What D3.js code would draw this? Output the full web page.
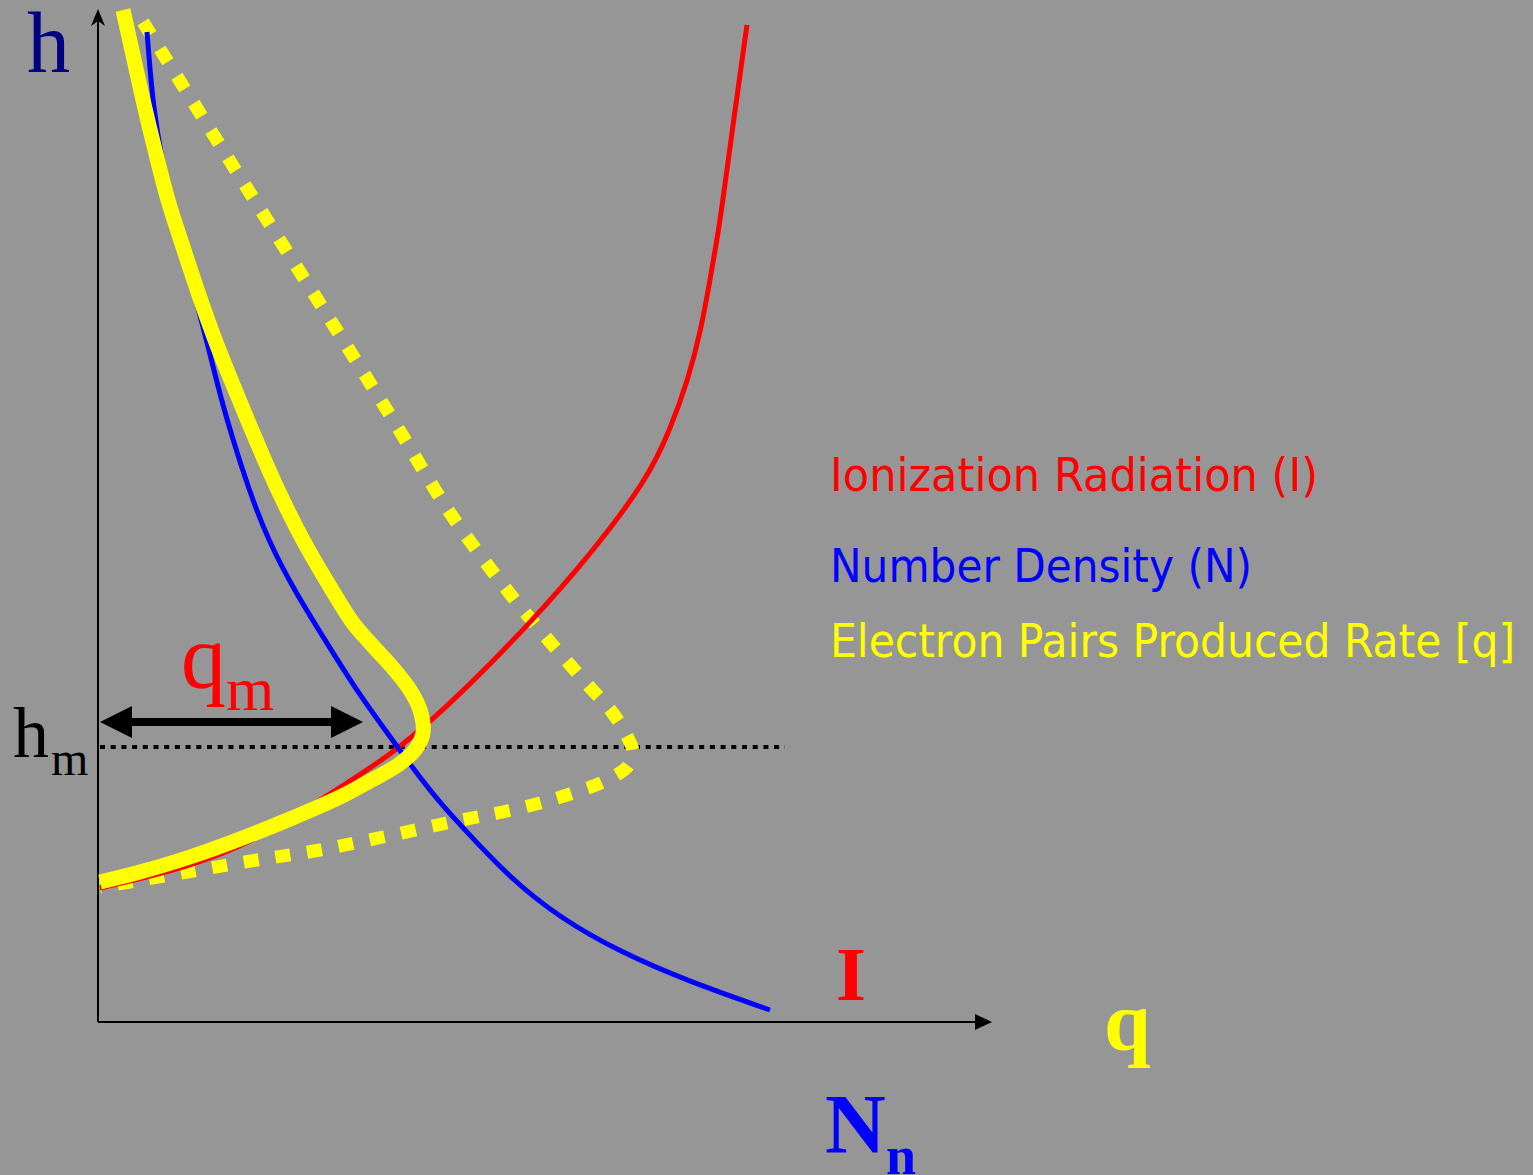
<!DOCTYPE html>
<html>
<head>
<meta charset="utf-8">
<script src="https://cdn.jsdelivr.net/npm/d3@7"></script>
<style>
  body { margin: 0; background: #969696; }
  svg { display: block; }
</style>
</head>
<body>
<svg id="chart" width="1533" height="1175"></svg>
<script>
// curves as [q, h] pairs in arbitrary units
var ionization = [[2,134],[92,155],[159,182],[222,222],[299,270],[367,332],[435,402],[492,467],
  [549,542],[572,592],[590,642],[603,692],[612,742],[619,782],[625,822],[637,912],[649,997]];

var density = [[49,990],[52,952],[56,912],[63,867],[72,822],[85,772],[98,722],[111,672],[122,627],
  [135,582],[151,532],[170,482],[196,432],[227,382],[255,337],[282,299],[314,255],[342,219],
  [369,190],[412,144],[462,104],[522,70],[592,40],[672,12]];

var pairRate = [[25,1012],[35,967],[45,922],[57,872],[70,822],[86,772],[102,724],[119,677],[138,630],
  [158,582],[180,532],[205,482],[234,432],[255,399],[274,377],[295,354],[312,332],[322,312],
  [325,289],[317,272],[300,257],[272,241],[242,225],[192,203],[142,183],[92,165],[42,150],[2,140]];

var pairRateAlt = [[45,1000],[147,837],[250,674],[300,594],[350,512],[405,437],[447,386],[489,338],
  [514,310],[530,284],[535,270],[530,256],[507,241],[472,228],[442,219],[409,211],[379,205],
  [349,199],[285,185],[222,172],[159,162],[95,151],[32,140],[2,135]];

var hmLevel = 275;   // height of peak production
var qmLevel = 300;   // where the q_m arrow sits
var qmValue = 265;   // length of q_m

var legendLabels = ["Ionization Radiation (I)", "Number Density (N)", "Electron Pairs Produced Rate [q]"];
var legendColors = ["#ff0000", "#0000ff", "#ffff00"];

var svg = d3.select("#chart");

var x = d3.scaleLinear().domain([0, 900]).range([98, 998]);
var y = d3.scaleLinear().domain([0, 1010]).range([1022, 12]);

svg.append("rect")
  .attr("width", 1533).attr("height", 1175)
  .attr("fill", "#969696");

var line = d3.line()
  .x(d => x(d[0]))
  .y(d => y(d[1]))
  .curve(d3.curveCatmullRom.alpha(0.5));

// smoother one for the hand-read red and blue curves
var smooth = d3.line()
  .x(d => x(d[0]))
  .y(d => y(d[1]))
  .curve(d3.curveBasis);

// axes
svg.append("line")
  .attr("x1", x(0)).attr("y1", y(0))
  .attr("x2", x(0)).attr("y2", 20)
  .attr("stroke", "#000").attr("stroke-width", 2);
svg.append("path")
  .attr("d", "M" + (x(0) - 7) + ",26 L" + x(0) + ",9 L" + (x(0) + 7) + ",26 L" + x(0) + ",21 Z")
  .attr("fill", "#000");

svg.append("line")
  .attr("x1", x(0)).attr("y1", y(0))
  .attr("x2", 978).attr("y2", y(0))
  .attr("stroke", "#000").attr("stroke-width", 2);
svg.append("path")
  .attr("d", "M975," + (y(0) - 8) + " L992," + y(0) + " L975," + (y(0) + 8) + " Z")
  .attr("fill", "#000");

// h_m reference line
svg.append("line")
  .attr("x1", x(2)).attr("x2", x(687))
  .attr("y1", y(hmLevel)).attr("y2", y(hmLevel))
  .attr("stroke", "#000").attr("stroke-width", 4)
  .attr("stroke-dasharray", "5,5.7");

// curves
svg.append("path").datum(pairRateAlt)
  .attr("d", line)
  .attr("fill", "none")
  .attr("stroke", "#ffff00")
  .attr("stroke-width", 13)
  .attr("stroke-dasharray", "15,17");

svg.append("path").datum(ionization)
  .attr("d", smooth)
  .attr("fill", "none")
  .attr("stroke", "#ff0000")
  .attr("stroke-width", 5);

svg.append("path").datum(density)
  .attr("d", smooth)
  .attr("fill", "none")
  .attr("stroke", "#0000ff")
  .attr("stroke-width", 5);

svg.append("path").datum(pairRate)
  .attr("d", line)
  .attr("fill", "none")
  .attr("stroke", "#ffff00")
  .attr("stroke-width", 15);

// q_m double arrow
var ay = y(qmLevel), ax0 = x(2), ax1 = x(qmValue);
svg.append("line")
  .attr("x1", ax0 + 20).attr("x2", ax1 - 20)
  .attr("y1", ay).attr("y2", ay)
  .attr("stroke", "#000").attr("stroke-width", 8);
svg.append("path")
  .attr("d", "M" + ax0 + "," + ay + " L" + (ax0 + 32) + "," + (ay - 16) + " L" + (ax0 + 32) + "," + (ay + 16) + " Z")
  .attr("fill", "#000");
svg.append("path")
  .attr("d", "M" + ax1 + "," + ay + " L" + (ax1 - 32) + "," + (ay - 16) + " L" + (ax1 - 32) + "," + (ay + 16) + " Z")
  .attr("fill", "#000");

// serif labels
var serif = "'Liberation Serif', 'Times New Roman', serif";

svg.append("text").attr("x", 27).attr("y", 72)
  .attr("font-family", serif).attr("font-size", 86).attr("fill", "#000080")
  .text("h");

var hm = svg.append("text").attr("font-family", serif).attr("fill", "#000");
hm.append("tspan").attr("x", 13).attr("y", 757).attr("font-size", 72).text("h");
hm.append("tspan").attr("x", 51).attr("y", 775).attr("font-size", 48).text("m");

var qm = svg.append("text").attr("font-family", serif).attr("fill", "#ff0000");
qm.append("tspan").attr("x", 181).attr("y", 688).attr("font-size", 90).text("q");
qm.append("tspan").attr("x", 226).attr("y", 710).attr("font-size", 62).text("m");

svg.append("text").attr("x", 836).attr("y", 1000)
  .attr("font-family", serif).attr("font-weight", "bold").attr("font-size", 77)
  .attr("fill", "#ff0000").text("I");

svg.append("text").attr("x", 1104).attr("y", 1050)
  .attr("font-family", serif).attr("font-weight", "bold").attr("font-size", 84)
  .attr("fill", "#ffff00").text("q");

var nn = svg.append("text").attr("font-family", serif).attr("font-weight", "bold").attr("fill", "#0000ff");
nn.append("tspan").attr("x", 825).attr("y", 1153).attr("font-size", 84).text("N");
nn.append("tspan").attr("x", 886).attr("y", 1174).attr("font-size", 54).text("n");

// legend
var legendX = 830, legendY = [491, 582, 657], legendW = [488, 422, 685];
svg.selectAll("text.legend")
  .data(legendLabels)
  .enter()
  .append("text")
  .attr("class", "legend")
  .attr("x", legendX)
  .attr("y", (d, i) => legendY[i])
  .attr("font-family", "'DejaVu Sans', Verdana, sans-serif")
  .attr("font-size", 47)
  .attr("textLength", (d, i) => legendW[i])
  .attr("lengthAdjust", "spacingAndGlyphs")
  .attr("fill", (d, i) => legendColors[i])
  .text(d => d);
</script>
</body>
</html>
